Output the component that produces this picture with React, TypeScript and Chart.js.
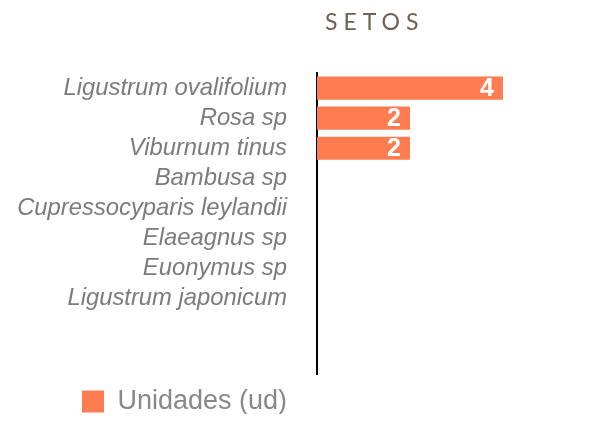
import React, { useEffect, useRef } from 'react';
import { Chart, registerables } from 'chart.js';

Chart.register(...registerables);

const TITLE = 'SETOS';
const SERIES_LABEL = 'Unidades (ud)';
const CATEGORIES = [
  'Ligustrum ovalifolium',
  'Rosa sp',
  'Viburnum tinus',
  'Bambusa sp',
  'Cupressocyparis leylandii',
  'Elaeagnus sp',
  'Euonymus sp',
  'Ligustrum japonicum',
  '',
  '',
];
const VALUES: (number | null)[] = [4, 2, 2, 0, 0, 0, 0, 0, null, null];
const X_MIN = 0;
const X_MAX = 6;

const BAR_COLOR = 'rgb(255,124,80)';
const SANS = '"Liberation Sans", Arial, Helvetica, sans-serif';

const valueLabels = {
  id: 'valueLabels',
  afterDatasetsDraw(chart: any) {
    const ctx = chart.ctx;
    const meta = chart.getDatasetMeta(0);
    const data = chart.data.datasets[0].data;
    ctx.save();
    ctx.font = `bold 25px ${SANS}`;
    ctx.fillStyle = '#ffffff';
    ctx.textAlign = 'right';
    ctx.textBaseline = 'middle';
    meta.data.forEach((el: any, i: number) => {
      const v = data[i];
      if (!v) return;
      ctx.fillText(String(v), el.x - 9, el.y + 1);
    });
    ctx.restore();
  },
};

const spacedTitle = {
  id: 'spacedTitle',
  afterDraw(chart: any) {
    const ctx = chart.ctx;
    ctx.save();
    ctx.font = '400 23px Lato, "Open Sans", sans-serif';
    ctx.fillStyle = '#6b6156';
    (ctx as any).letterSpacing = '6px';
    ctx.textAlign = 'left';
    ctx.textBaseline = 'alphabetic';
    ctx.fillText(TITLE, chart.chartArea.left + 8, 22);
    ctx.restore();
  },
};

const legendOffset = {
  id: 'legendOffset',
  afterLayout(chart: any) {
    const lg = chart.legend;
    if (lg) lg.left = 60;
  },
};

export default function App() {
  const ref = useRef<HTMLCanvasElement | null>(null);

  useEffect(() => {
    if (!ref.current) return;
    const chart = new Chart(ref.current, {
      type: 'bar',
      data: {
        labels: CATEGORIES,
        datasets: [
          {
            label: SERIES_LABEL,
            data: VALUES as any,
            backgroundColor: BAR_COLOR,
            borderWidth: 0,
            barPercentage: 0.77,
            categoryPercentage: 1,
          },
        ],
      },
      options: {
        indexAxis: 'y',
        responsive: true,
        maintainAspectRatio: false,
        animation: false,
        layout: { autoPadding: false, padding: { top: 65, right: 6, bottom: 0, left: 0 } },
        scales: {
          x: { display: false, min: X_MIN, max: X_MAX },
          y: {
            afterFit: (s: any) => {
              s.width = 309;
              s.paddingTop = 0;
              s.paddingBottom = 0;
            },
            grid: { display: false, drawTicks: false },
            border: { display: true, color: '#000000', width: 2 },
            ticks: {
              autoSkip: false,
              color: '#7b7b7b',
              padding: 30,
              font: { family: SANS, size: 23.8, style: 'italic' },
            },
          },
        },
        plugins: {
          legend: {
            position: 'bottom',
            align: 'start',
            maxHeight: 40,
            labels: {
              boxWidth: 22,
              boxHeight: 22,
              padding: 14,
              color: '#888888',
              font: { family: SANS, size: 27 },
            },
          },
          tooltip: { enabled: false },
          title: { display: false },
        },
      } as any,
      plugins: [valueLabels, spacedTitle, legendOffset],
    });
    return () => chart.destroy();
  }, []);

  return (
    <div style={{ position: 'relative', width: 594, height: 406 }}>
      <canvas ref={ref} />
    </div>
  );
}
